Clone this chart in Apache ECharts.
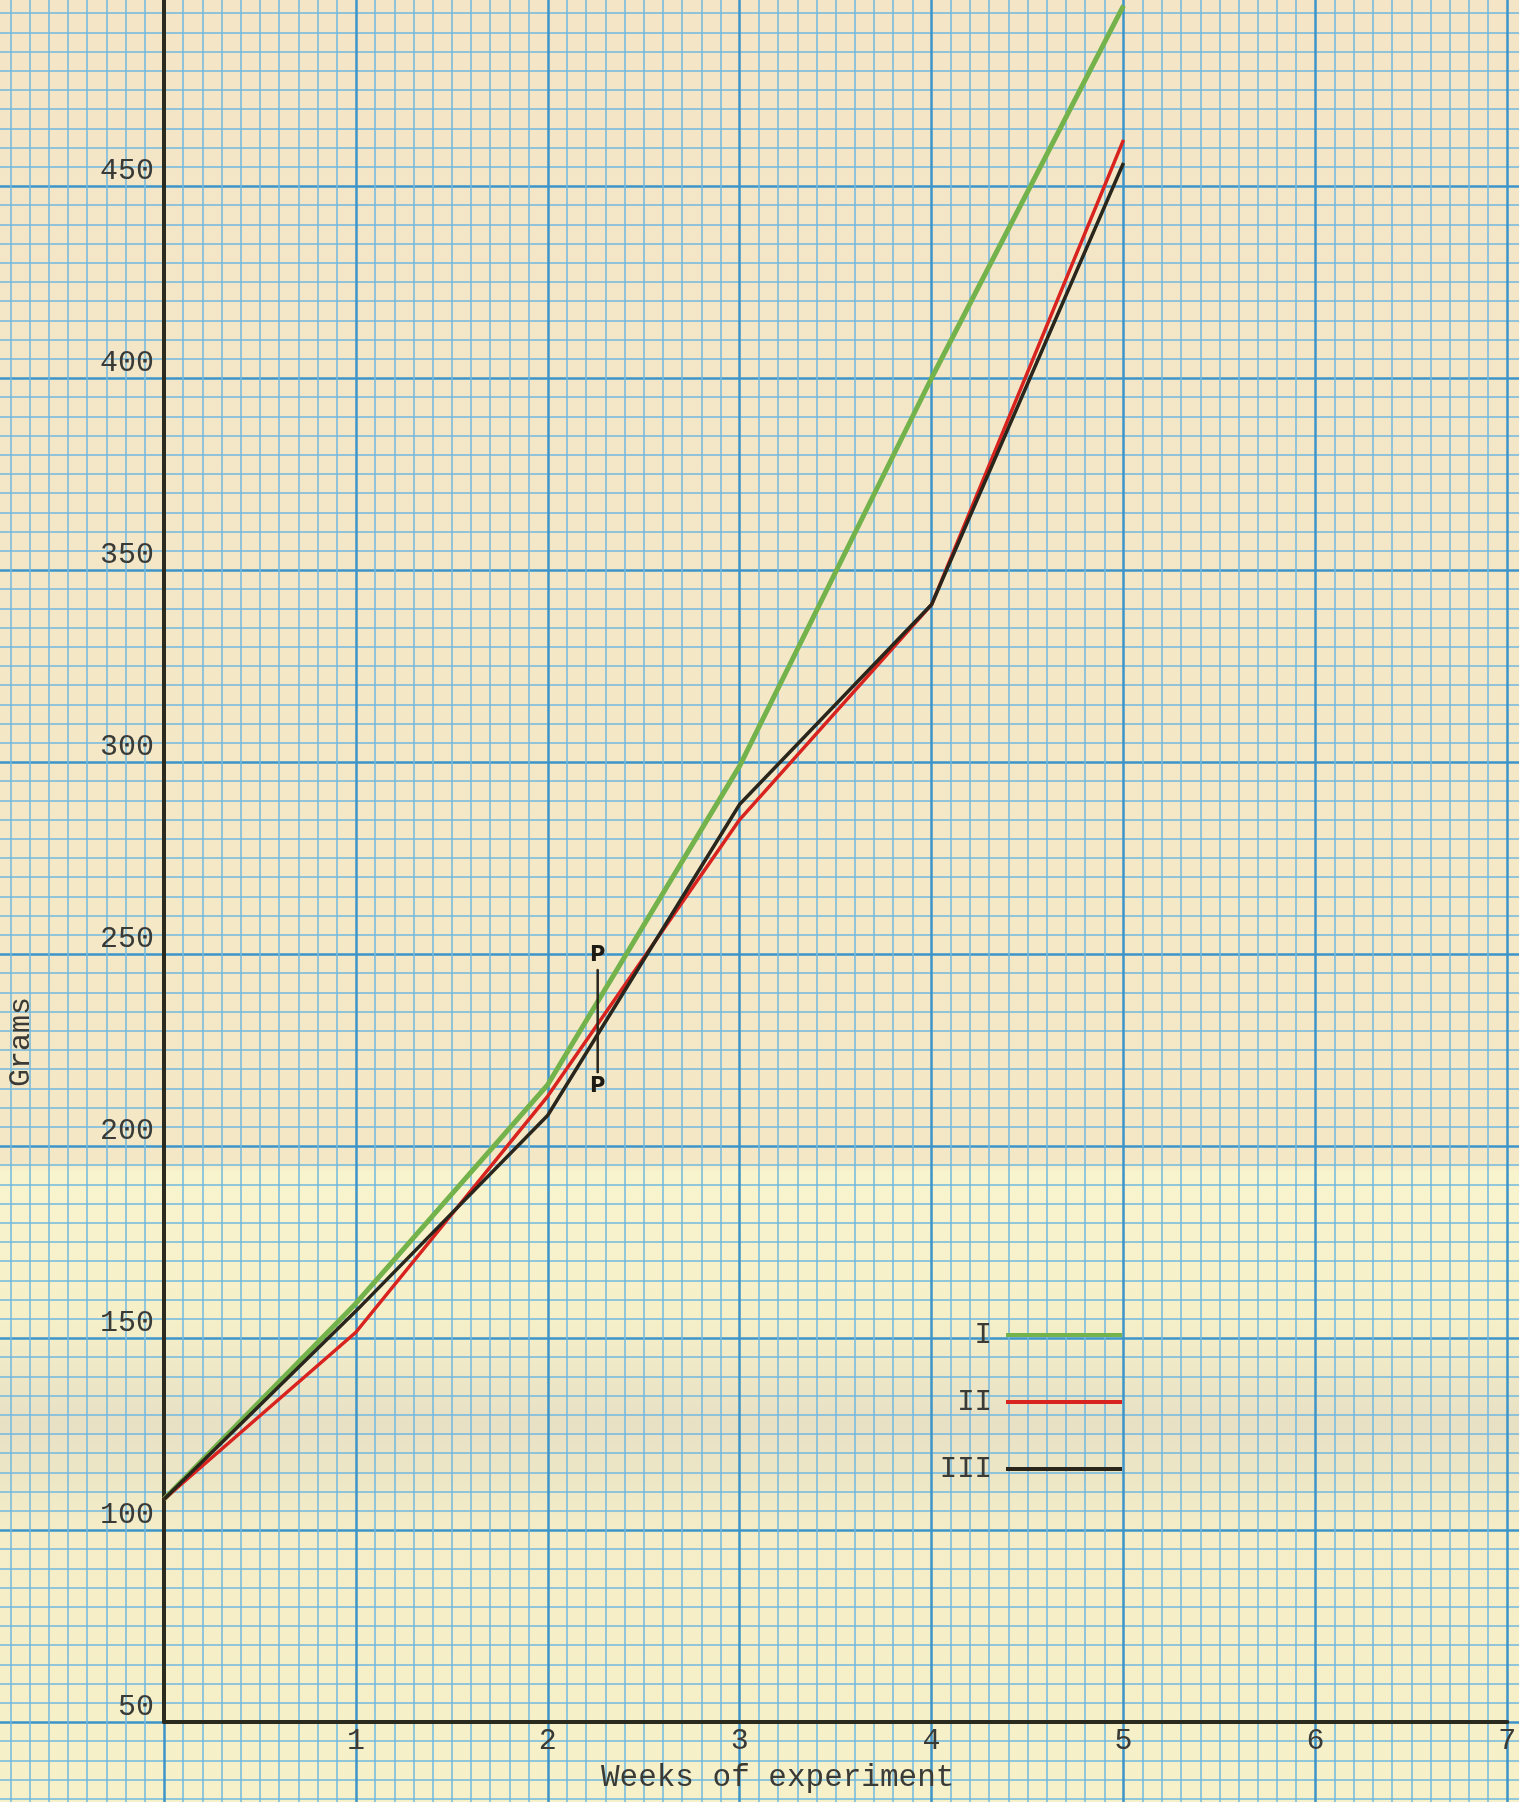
<!DOCTYPE html>
<html>
<head>
<meta charset="utf-8">
<script src="https://cdn.jsdelivr.net/npm/echarts@6/dist/echarts.min.js"></script>
<style>
	html, body { margin: 0; padding: 0; }
	#chart { width: 1519px; height: 1802px; }
</style>
</head>
<body>
<div id="chart"></div>
<script>
// weeks of experiment
var weeks = [0, 1, 2, 3, 4, 5];

// grams
var groupI = [108, 159, 216, 299, 400, 497];
var groupII = [108, 151.5, 213, 285, 341, 462];
var groupIII = [108, 157, 208, 289, 341, 456];

// the "P" mark between week 2 and 3
var pWeek = [2.26, 2.26];
var pGrams = [246, 219];

var xTickLabels = [1, 2, 3, 4, 5, 6, 7];
var yTickLabels = [50, 100, 150, 200, 250, 300, 350, 400, 450];

var seriesNames = ["I", "II", "III"];
var seriesColors = ["#74b24c", "#d8231e", "#2a261c"];

var ink = "#3a3a36",
	font = "Liberation Mono";

function pairs(xs, ys)
{
	var r = [];
	for (var i=0; i < xs.length; i++)
	{
		r.push([xs[i], ys[i]]);
	}
	return r;
}

var chart = echarts.init(document.getElementById("chart"), null, {
	renderer: "canvas"
});

var opt = {
	animation: false,
	backgroundColor: {
		type: "linear",
		x: 0, y: 0, x2: 0, y2: 1,
		colorStops: [
			{offset: 0, color: "#f3e5c6"},
			{offset: 0.5, color: "#f4e8c7"},
			{offset: 0.645, color: "#f3e7c5"},
			{offset: 0.65, color: "#f8f4cd"},
			{offset: 0.73, color: "#f6f0c9"},
			{offset: 0.79, color: "#e7e0c4"},
			{offset: 0.85, color: "#f4edc7"},
			{offset: 1, color: "#f7f1c9"}
		]
	},
	textStyle: {
		fontFamily: font
	},
	grid: [
		// graph paper, runs past the page edges
		{
			left: -27.9,
			right: -180.2,
			top: -6,
			bottom: -112,
			outerBoundsMode: "none"
		},
		// the plot itself
		{
			left: 164,
			right: 11.7,
			top: -6,
			bottom: 80,
			outerBoundsMode: "none"
		}
	],
	xAxis: [
		{
			type: "value",
			gridIndex: 0,
			min: -1,
			max: 8,
			interval: 1,
			axisLine: {show: false},
			axisTick: {show: false},
			axisLabel: {show: false},
			splitLine: {
				show: true,
				lineStyle: {color: "#3d94c8", width: 2.5}
			},
			minorTick: {show: false, splitNumber: 10},
			minorSplitLine: {
				show: true,
				lineStyle: {color: "#72b8de", width: 1.5}
			}
		},
		{
			type: "value",
			gridIndex: 1,
			min: 0,
			max: 7,
			interval: 1,
			axisLine: {
				show: true,
				onZero: false,
				lineStyle: {color: "#2a2a1e", width: 4}
			},
			axisTick: {show: false},
			splitLine: {show: false},
			axisLabel: {
				color: ink,
				fontSize: 30,
				fontFamily: font,
				margin: 4,
				formatter: function(value) {
					return xTickLabels.indexOf(value) > -1 ? String(value) : "";
				}
			},
			name: "Weeks of experiment",
			nameLocation: "middle",
			nameGap: 40,
			nameTextStyle: {
				color: ink,
				fontSize: 31,
				fontFamily: font,
				padding: [0, 116, 0, 0]
			}
		}
	],
	yAxis: [
		{
			type: "value",
			gridIndex: 0,
			min: 0,
			max: 500,
			interval: 50,
			axisLine: {show: false},
			axisTick: {show: false},
			axisLabel: {show: false},
			splitLine: {
				show: true,
				lineStyle: {color: "#3d94c8", width: 2.5}
			},
			minorTick: {show: false, splitNumber: 10},
			minorSplitLine: {
				show: true,
				lineStyle: {color: "#72b8de", width: 1.5}
			}
		},
		{
			type: "value",
			gridIndex: 1,
			min: 50,
			max: 500,
			interval: 50,
			axisLine: {
				show: true,
				onZero: false,
				lineStyle: {color: "#2a2a1e", width: 4}
			},
			axisTick: {show: false},
			splitLine: {show: false},
			axisLabel: {
				color: ink,
				fontSize: 30,
				fontFamily: font,
				margin: 10,
				verticalAlign: "bottom",
				formatter: function(value) {
					return yTickLabels.indexOf(value) > -1 ? String(value) : "";
				}
			},
			name: "Grams",
			nameLocation: "middle",
			nameGap: 128,
			nameRotate: 90,
			nameTextStyle: {
				color: ink,
				fontSize: 30,
				fontFamily: font,
				padding: [0, 368, 0, 0]
			}
		}
	],
	legend: {
		orient: "vertical",
		right: 392,
		top: 1313,
		align: "right",
		icon: "rect",
		itemWidth: 116,
		itemHeight: 4,
		itemGap: 33,
		data: seriesNames,
		textStyle: {
			color: ink,
			fontSize: 29,
			fontFamily: font,
			lineHeight: 34,
			padding: [0, 9, 0, 0]
		}
	},
	series: [
		{
			name: "I",
			type: "line",
			xAxisIndex: 1,
			yAxisIndex: 1,
			showSymbol: false,
			symbol: "none",
			color: seriesColors[0],
			lineStyle: {color: seriesColors[0], width: 5},
			data: pairs(weeks, groupI),
			z: 3
		},
		{
			name: "II",
			type: "line",
			xAxisIndex: 1,
			yAxisIndex: 1,
			showSymbol: false,
			symbol: "none",
			color: seriesColors[1],
			lineStyle: {color: seriesColors[1], width: 3.5},
			data: pairs(weeks, groupII),
			z: 4
		},
		{
			name: "III",
			type: "line",
			xAxisIndex: 1,
			yAxisIndex: 1,
			showSymbol: false,
			symbol: "none",
			color: seriesColors[2],
			lineStyle: {color: seriesColors[2], width: 3.5},
			data: pairs(weeks, groupIII),
			z: 5
		},
		{
			name: "P",
			type: "line",
			xAxisIndex: 1,
			yAxisIndex: 1,
			symbol: "circle",
			symbolSize: 1,
			lineStyle: {color: "#2a261c", width: 2.5},
			itemStyle: {color: "#2a261c"},
			label: {
				show: true,
				formatter: "P",
				color: "#1e1a14",
				fontFamily: "DejaVu Sans",
				fontWeight: "bold",
				fontSize: 21,
				distance: 3
			},
			data: [
				{value: [pWeek[0], pGrams[0]], label: {position: "top"}},
				{value: [pWeek[1], pGrams[1]], label: {position: "bottom"}}
			],
			z: 6
		}
	]
};

chart.setOption(opt);
</script>
</body>
</html>
